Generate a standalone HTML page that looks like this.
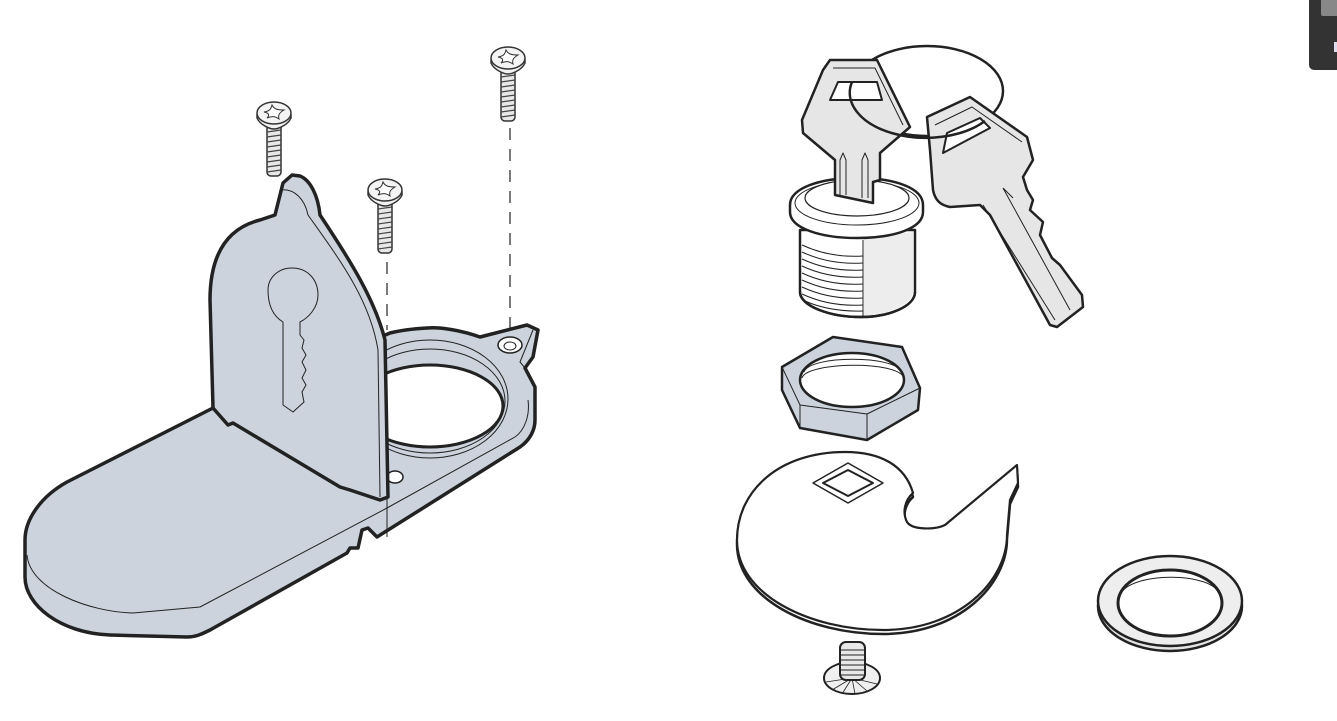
<!DOCTYPE html>
<html><head><meta charset="utf-8"><style>
html,body{margin:0;padding:0;background:#fff;width:1337px;height:721px;overflow:hidden}
</style></head><body>
<svg width="1337" height="721" viewBox="0 0 1337 721" xmlns="http://www.w3.org/2000/svg">
<defs>
<g id="screw">
  <rect x="-7" y="8" width="14" height="55" rx="4" fill="#e8e8e8" stroke="#333" stroke-width="1.5"/>
  <g stroke="#444" stroke-width="1.2">
    <line x1="-7" y1="14" x2="7" y2="12"/><line x1="-7" y1="19" x2="7" y2="17"/><line x1="-7" y1="24" x2="7" y2="22"/>
    <line x1="-7" y1="29" x2="7" y2="27"/><line x1="-7" y1="34" x2="7" y2="32"/><line x1="-7" y1="39" x2="7" y2="37"/>
    <line x1="-7" y1="44" x2="7" y2="42"/><line x1="-7" y1="49" x2="7" y2="47"/><line x1="-7" y1="54" x2="7" y2="52"/>
    <line x1="-7" y1="59" x2="7" y2="57"/>
  </g>
  <path d="M-17,2 L-17,5 C-14,12 -4,16 0,16 C4,16 14,12 17,5 L17,2 Z" fill="#f2f2f2" stroke="#333" stroke-width="1.5"/>
  <ellipse cx="0" cy="0" rx="17" ry="11" fill="#f4f4f4" stroke="#333" stroke-width="1.5"/>
  <path d="M-10,-1 C-4,-2 -3,-4 -2,-8 C0,-4 3,-3 10,-3 C5,0 4,2 5,6 C1,3 -2,3 -7,5 C-4,2 -5,0 -10,-1 Z" fill="#fff" stroke="#333" stroke-width="1"/>
</g>
</defs>

<!-- top-right dark widget -->
<rect x="1309" y="-8" width="40" height="78" rx="5" fill="#333"/>
<rect x="1321" y="-8" width="20" height="24" rx="2" fill="#888"/>
<rect x="1334" y="42" width="3" height="10" fill="#dde"/>

<!-- dashed lines -->
<g stroke="#333" stroke-width="1.3" stroke-dasharray="12,9" fill="none">
  <line x1="510" y1="128" x2="510" y2="340"/>
  <line x1="387" y1="262" x2="387" y2="330"/>
</g>

<!-- base plate with ring -->
<g stroke="#222" stroke-linejoin="round">
  <path d="M213,408 L67,482 C40,497 25,520 25,540 L25,577 C25,605 60,633 110,635 L187,637 C195,637 200,635 210,630 L347,553 L350,548 L358,548 L362,530 L368,528 L377,537 L520,447 C530,440 535,430 535,420 L535,387 L525,368 L533,357 L538,330 L527,325 L480,337 C460,330 440,327 427,328 C410,329 398,331 390,333 Z" fill="#ccd3dc" stroke-width="3.5"/>
  <path d="M27,555 C30,590 90,612 133,613 L200,607 L387,508 L515,437 C525,430 530,415 528,400" fill="none" stroke-width="1"/>
  <line x1="387" y1="497" x2="387" y2="537" stroke-width="1"/>
  <path d="M525,368 L520,362 L533,330" fill="none" stroke-width="1"/>
  <ellipse cx="430" cy="399" rx="78" ry="59" fill="#ccd3dc" stroke-width="1"/>
  <ellipse cx="430" cy="401" rx="75" ry="52" fill="none" stroke-width="1"/>
  <ellipse cx="430" cy="406" rx="73" ry="41" fill="#fff" stroke-width="3"/>
  <ellipse cx="510" cy="345" rx="12" ry="8" fill="#fff" stroke-width="1.5"/>
  <ellipse cx="510" cy="346" rx="6" ry="4" fill="#fff" stroke-width="1"/>
  <ellipse cx="395" cy="477" rx="8" ry="6" fill="#fff" stroke-width="1.5"/>
</g>

<!-- vertical panel -->
<g stroke="#222" stroke-linejoin="round">
  <path d="M213,408 L210,300 C210,240 240,225 260,220 L275,215 L283,183 L292,175 L300,176 C310,180 318,195 320,215 C350,260 375,300 385,340 L388,497 L380,500 L350,490 L340,487 L233,423 L228,425 Z" fill="#ccd3dc" stroke-width="3.5"/>
  <path d="M280,190 C295,188 305,200 308,215 C340,260 370,300 378,350 L380,497" fill="none" stroke-width="1"/>
  <path d="M268,290 C268,278 278,268 292,268 C308,268 318,280 318,295 C318,308 308,318 300,322 L300,335 L304,340 L302,348 L306,355 L302,362 L306,370 L302,378 L306,385 L302,392 L304,402 L293,412 L283,405 L283,322 C273,316 268,305 268,290 Z" fill="#ccd3dc" stroke-width="1"/>
</g>

<use href="#screw" x="274" y="113"/>
<use href="#screw" x="385" y="190"/>
<use href="#screw" x="508" y="58"/>

<!-- ring back -->
<ellipse cx="927" cy="91" rx="76" ry="45" fill="none" stroke="#222" stroke-width="2.5"/>

<!-- cylinder -->
<g stroke="#222" stroke-linejoin="round">
  <path d="M800,230 L800,292 C800,306 830,317 860,317 C890,317 915,306 915,292 L915,230 Z" fill="#fff" stroke-width="2.5"/>
  <path d="M864,238 L913,232 L913,292 C913,303 890,314 864,316 Z" fill="#ededed" stroke="none"/>
  <g stroke-width="1" fill="none">
    <path d="M802,245 Q830,258 863,256"/><path d="M802,252 Q830,265 863,263"/><path d="M802,259 Q830,272 863,270"/>
    <path d="M802,266 Q830,279 863,277"/><path d="M802,273 Q830,286 863,284"/><path d="M802,280 Q830,293 863,291"/>
    <path d="M802,287 Q830,300 863,298"/><path d="M802,294 Q830,307 863,305"/><path d="M805,301 Q830,312 863,311"/>
    <line x1="863" y1="240" x2="863" y2="316"/>
  </g>
  <path d="M800,292 C800,306 830,317 860,317 C890,317 915,306 915,292" fill="none" stroke-width="2.5"/>
  <path d="M790,205 C790,188 820,178 857,178 C895,178 923,188 923,205 L923,212 C923,228 895,238 857,238 C820,238 790,228 790,212 Z" fill="#fff" stroke-width="2.5"/>
  <ellipse cx="857" cy="203" rx="62" ry="22" fill="none" stroke-width="1"/>
  <ellipse cx="857" cy="198" rx="52" ry="18" fill="#fff" stroke-width="1.2"/>
</g>

<!-- key 1 -->
<g stroke="#222" stroke-linejoin="round">
  <path d="M830,60 L877,60 L910,127 L880,153 L880,180 L873,182 L873,203 L835,195 L835,160 L803,133 L802,120 L823,70 Z" fill="#e6e6e6" stroke-width="2.5"/>
  <path d="M833,68 L875,68 L903,125" fill="none" stroke-width="1"/>
  <path d="M838,82 L877,82 L882,100 L830,100 Z" fill="#fff" stroke-width="2"/>
  <path d="M840,195 L840,160 L843,153 L846,160 L846,195 M862,198 L862,160 L865,153 L868,160 L868,198" fill="none" stroke-width="1"/>
</g>

<!-- key 2 -->
<g stroke="#222" stroke-linejoin="round">
  <path d="M927,117 L970,97 L1027,137 L1033,160 L1023,177 L1027,190 L1033,200 L1030,210 L1043,222 L1040,235 L1052,258 L1060,265 L1082,295 L1083,307 L1057,327 L1050,325 L990,215 L980,205 L950,207 C940,205 935,200 933,190 L930,150 Z" fill="#e6e6e6" stroke-width="2.5"/>
  <path d="M935,125 L972,107 L1022,142" fill="none" stroke-width="1"/>
  <path d="M947,133 L980,118 L990,128 L943,153 Z" fill="#fff" stroke-width="2"/>
  <path d="M1003,188 L1070,310 M983,205 L1055,320 M1003,188 L1013,198" fill="none" stroke-width="1"/>
</g>
<!-- ring front -->
<path d="M852,82 A76,45 0 0 0 985,121" fill="none" stroke="#222" stroke-width="2.5"/>

<!-- nut -->
<g stroke="#222" stroke-linejoin="round">
  <path d="M782,367 L833,337 L902,347 L920,388 L918,410 L867,440 L800,428 L782,390 Z" fill="#ccd3dc" stroke-width="2.5"/>
  <path d="M782,367 L800,405 L867,414 L920,388 M800,405 L800,428 M867,414 L867,440" fill="none" stroke-width="1"/>
  <ellipse cx="852" cy="380" rx="52" ry="27" fill="#fff" stroke-width="2.5"/>
  <path d="M804,372 C810,355 895,355 902,372" fill="none" stroke-width="1"/>
  <path d="M802,378 C806,362 898,360 904,378" fill="none" stroke-width="1"/>
</g>

<!-- cam -->
<g stroke="#222" stroke-linejoin="round">
  <path d="M913,497 C905,469 880,456 845,456 C780,456 737,494 737,544 C737,599 810,634 883,634 C960,634 1007,584 1007,539 L1010,504 L1018,487 L1017,469 L945,529 C935,534 912,534 907,526 C902,516 905,504 913,497 Z" fill="#fff" stroke-width="2.5"/>
  <path d="M913,493 C905,465 880,452 845,452 C780,452 737,490 737,540 C737,595 810,630 883,630 C960,630 1007,580 1007,535 L1010,500 L1018,483 L1017,465 L945,525 C935,530 912,530 907,522 C902,512 905,500 913,493 Z" fill="#fff" stroke-width="2.2"/>
  <path d="M813,483 L848,463 L883,483 L848,503 Z" fill="#fff" stroke-width="1.5"/>
  <path d="M823,483 L848,470 L873,483 L848,496 Z" fill="#fff" stroke-width="2"/>
</g>

<!-- washer -->
<g stroke="#222">
  <ellipse cx="1170" cy="606" rx="72" ry="45" fill="#e4e4e4" stroke-width="2.5"/>
  <ellipse cx="1170" cy="601" rx="72" ry="45" fill="#eee" stroke-width="2.5"/>
  <ellipse cx="1170" cy="603" rx="52" ry="33" fill="#fff" stroke-width="3"/>
  <path d="M1120,596 C1125,572 1215,570 1220,596" fill="none" stroke-width="1"/>
</g>

<!-- bottom screw -->
<g stroke="#222">
  <ellipse cx="852" cy="678" rx="28" ry="16" fill="#f0f0f0" stroke-width="2"/>
  <g stroke-width="0.8"><line x1="852" y1="678" x2="826" y2="682"/><line x1="852" y1="678" x2="832" y2="690"/><line x1="852" y1="678" x2="842" y2="694"/><line x1="852" y1="678" x2="855" y2="694"/><line x1="852" y1="678" x2="867" y2="691"/><line x1="852" y1="678" x2="877" y2="684"/></g>
  <rect x="840" y="642" width="25" height="38" rx="6" fill="#e8e8e8" stroke-width="2"/>
  <g stroke-width="1"><line x1="840" y1="650" x2="865" y2="650"/><line x1="840" y1="655" x2="865" y2="655"/><line x1="840" y1="660" x2="865" y2="660"/><line x1="840" y1="665" x2="865" y2="665"/><line x1="840" y1="670" x2="865" y2="670"/><line x1="840" y1="675" x2="865" y2="675"/></g>
</g>
</svg>
</body></html>
